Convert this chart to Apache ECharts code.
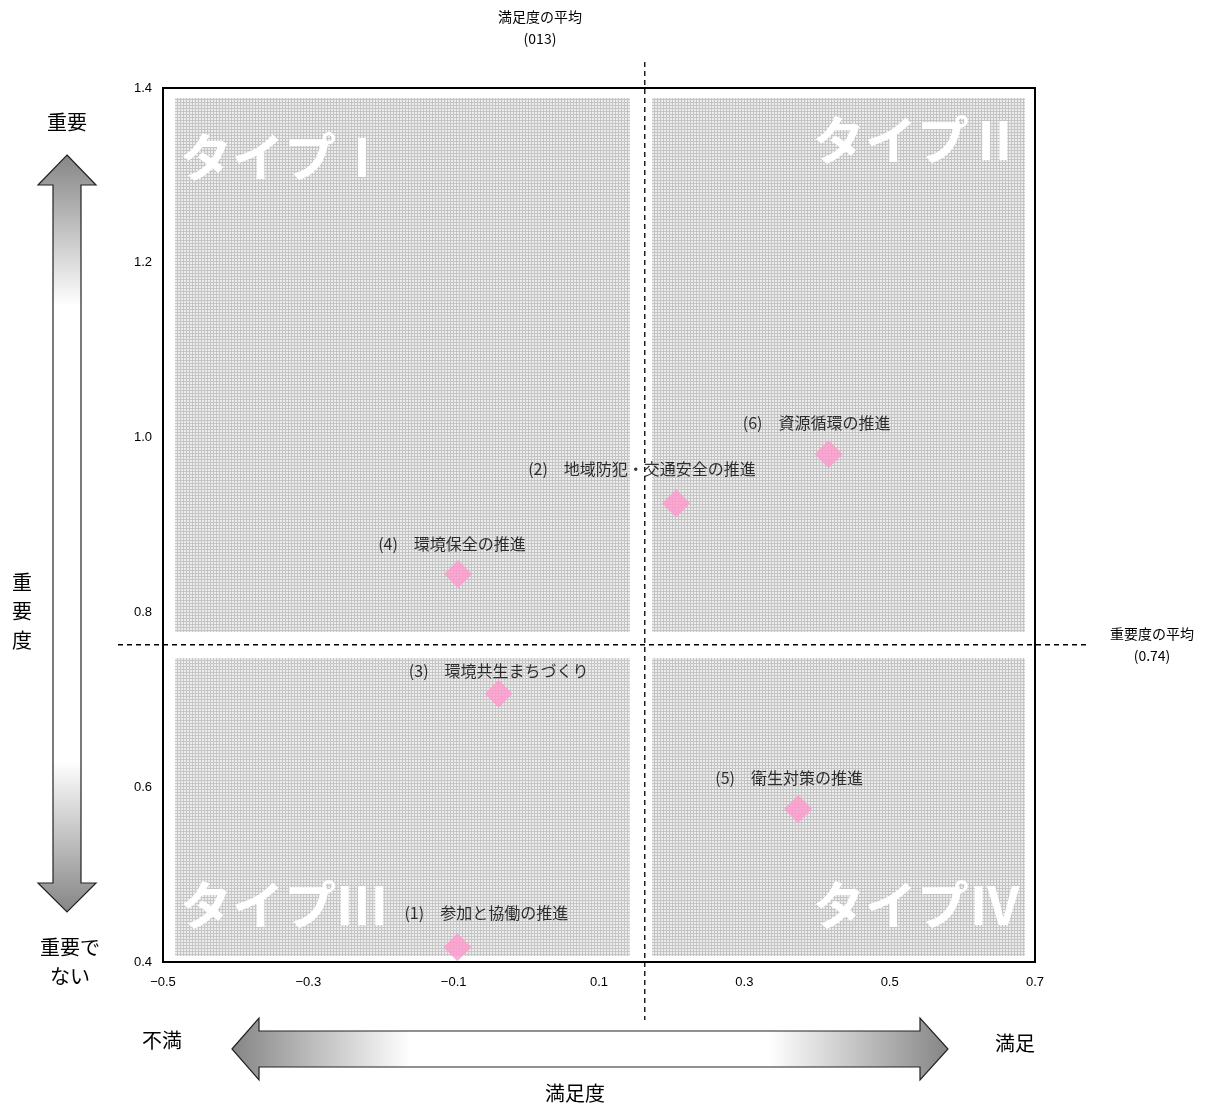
<!DOCTYPE html>
<html><head><meta charset="utf-8">
<script src="https://cdn.jsdelivr.net/npm/echarts@6/dist/echarts.min.js"></script>
<style>html,body{margin:0;padding:0;background:#fff}#c{width:1216px;height:1106px}</style>
</head><body><div id="c"></div>
<script>
// ---- data ----
const itemNames = ['(1)　参加と協働の推進','(2)　地域防犯・交通安全の推進','(3)　環境共生まちづくり','(4)　環境保全の推進','(5)　衛生対策の推進','(6)　資源循環の推進'];
const satisfaction = [-0.095, 0.206, -0.038, -0.094, 0.374, 0.416];
const importance   = [0.417, 0.925, 0.707, 0.844, 0.575, 0.981];
const xMin = -0.5, xMax = 0.7, xStep = 0.2;
const yMin = 0.4, yMax = 1.4, yStep = 0.2;
const meanSatisfaction = 0.163;
const meanImportance = 0.763;
const meanSatisfactionLabel = '満足度の平均\n(013)';
const meanImportanceLabel = '重要度の平均\n(0.74)';
const quadrantNames = ['タイプⅠ','タイプⅡ','タイプⅢ','タイプⅣ'];
// quadrant box extents (data units): [xFrom, xTo, yFrom, yTo]
const quadrantBoxes = [[-0.4835,0.1426,0.7776,1.3886],[0.173,0.686,0.7776,1.3886],[-0.4835,0.1426,0.4069,0.7478],[0.173,0.686,0.4069,0.7478]];
// label offsets (px) relative to each marker
const labelOffsets = [[29,-34],[-34,-34],[0,-23],[-6,-30],[-9,-31],[-12,-31]];

const FONT = '"Noto Sans CJK JP","Noto Sans",sans-serif';

function makePattern(withBg){
  const c = document.createElement('canvas'); c.width = 3; c.height = 3;
  const g = c.getContext('2d');
  if (withBg){ g.fillStyle = '#ececec'; g.fillRect(0,0,3,3); }
  g.fillStyle = withBg ? '#c6c6c6' : 'rgba(195,195,195,0.85)';
  g.fillRect(0,0,3,1); g.fillRect(0,1,1,2);
  return {image: c, repeat: 'repeat'};
}
const patBg = makePattern(true), patOver = makePattern(false);

function boxArea(b){ return [{coord:[b[0],b[3]]},{coord:[b[1],b[2]]}]; }

const chart = echarts.init(document.getElementById('c'));
const fmt = v => { const s = (Math.round(v*10)/10).toFixed(1); return s.replace('-', '−'); };

const option = {
  animation: false,
  grid: {left:163, top:88, right:181, bottom:144, show:true, borderColor:'#000', borderWidth:2, backgroundColor:'#fff'},
  xAxis: {type:'value', min:xMin, max:xMax, interval:xStep,
    axisLine:{show:false}, axisTick:{show:false}, splitLine:{show:false},
    axisLabel:{formatter:fmt, color:'#000', fontSize:13, fontFamily:'"Liberation Sans",Arial,sans-serif', margin:14, showMinLabel:true, showMaxLabel:true}},
  yAxis: {type:'value', min:yMin, max:yMax, interval:yStep,
    axisLine:{show:false}, axisTick:{show:false}, splitLine:{show:false},
    axisLabel:{formatter:fmt, color:'#000', fontSize:13, fontFamily:'"Liberation Sans",Arial,sans-serif', margin:11}},
  series: [
    {type:'scatter', data:[], z:1, silent:true,
     markArea:{silent:true, itemStyle:{color:patBg, borderWidth:0}, label:{show:false},
       data: quadrantBoxes.map(boxArea)}},
    {type:'scatter', z:2, symbol:'diamond', symbolSize:28,
     itemStyle:{color:'#ff99cc'},
     data: satisfaction.map((x,i)=>({value:[x, importance[i]], name:itemNames[i],
       label:{show:true, position:'inside', offset:labelOffsets[i], formatter:'{b}', color:'#000', fontSize:16, fontFamily:FONT}}))},
    {type:'scatter', data:[], z:3, silent:true,
     markArea:{silent:true, itemStyle:{color:patOver, borderWidth:0}, label:{show:false},
       data: [quadrantBoxes[0],quadrantBoxes[1],quadrantBoxes[3]].map(boxArea)}}
  ]
};
chart.setOption(option);

const px = (x,y) => chart.convertToPixel({gridIndex:0}, [x,y]);
const pMean = px(meanSatisfaction, meanImportance);

function gradV(){ return {type:'linear',x:0,y:0,x2:0,y2:1,colorStops:[{offset:0,color:'#858585'},{offset:0.2,color:'#ffffff'},{offset:0.8,color:'#ffffff'},{offset:1,color:'#858585'}]}; }
function gradH(){ return {type:'linear',x:0,y:0,x2:1,y2:0,colorStops:[{offset:0,color:'#858585'},{offset:0.25,color:'#ffffff'},{offset:0.75,color:'#ffffff'},{offset:1,color:'#858585'}]}; }

const txt = (x,y,text,size,extra) => Object.assign({type:'text', x:x, y:y, z:10,
  style:Object.assign({text:text, fill:'#000', font:size+'px '+FONT, align:'center', verticalAlign:'middle'}, extra||{})});

const graphics = [
  {type:'line', z:5, shape:{x1:pMean[0], y1:62, x2:pMean[0], y2:1020}, style:{stroke:'#000', lineWidth:1.3, lineDash:[5,4]}},
  {type:'line', z:5, shape:{x1:118, y1:pMean[1], x2:1090, y2:pMean[1]}, style:{stroke:'#000', lineWidth:1.3, lineDash:[5,4]}},
  txt(540, 28, meanSatisfactionLabel, 14, {lineHeight:22}),
  txt(1152, 645, meanImportanceLabel, 14, {lineHeight:22}),
  {type:'polygon', z:4, shape:{points:[[67,155],[96,185],[81,185],[81,883],[96,883],[67,912],[38,883],[53,883],[53,185],[38,185]]},
   style:{fill:gradV(), stroke:'#222', lineWidth:1.2}},
  {type:'polygon', z:4, shape:{points:[[232,1049],[259,1018],[259,1031],[920,1031],[920,1018],[948,1049],[920,1080],[920,1067],[259,1067],[259,1080]]},
   style:{fill:gradH(), stroke:'#222', lineWidth:1.2}},
  txt(67, 122, '重要', 20),
  txt(22, 611, '重\n要\n度', 20, {lineHeight:29}),
  txt(70, 962, '重要で\nない', 20, {lineHeight:29}),
  txt(162, 1040, '不満', 20),
  txt(1015, 1043, '満足', 20),
  txt(575, 1093, '満足度', 20)
];
// quadrant titles: left-aligned in left boxes, right-aligned in right boxes
const qAnchor = [
  [px(quadrantBoxes[0][0],0)[0] + 5, 157, 'left'],
  [px(quadrantBoxes[1][1],0)[0] - 4, 140, 'right'],
  [px(quadrantBoxes[2][0],0)[0] + 5, 905, 'left'],
  [px(quadrantBoxes[3][1],0)[0] - 4, 905, 'right']
];
quadrantNames.forEach((n,i)=>{
  graphics.push(txt(qAnchor[i][0], qAnchor[i][1], n, 50, {fill:'#ffffff', font:'bold 52px '+FONT, align:qAnchor[i][2]}));
});
chart.setOption({graphic: graphics});
</script>
</body></html>
